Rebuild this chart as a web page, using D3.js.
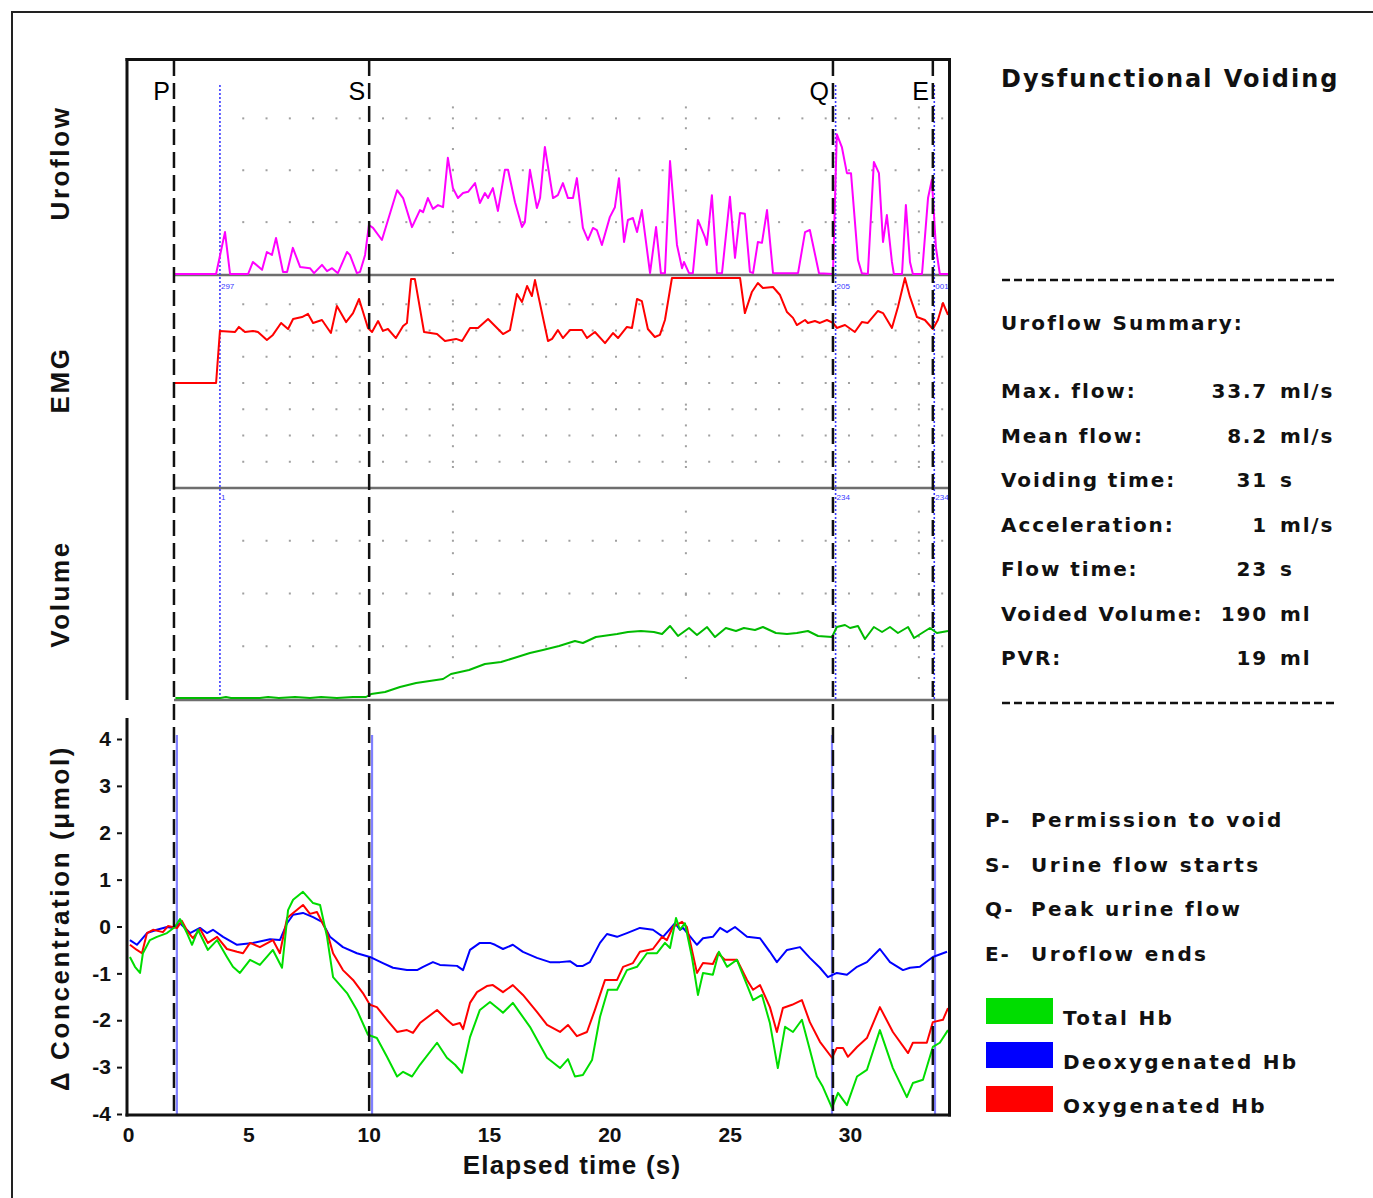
<!DOCTYPE html>
<html>
<head>
<meta charset="utf-8">
<script src="https://cdn.jsdelivr.net/npm/d3@7"></script>
<style>
  body { margin: 0; background: #fff; }
  svg { display: block; }
</style>
</head>
<body>
<div id="chart"></div>
<script>
// uroflow [time s, flow ml/s]
var uroflow = [[1.95,0],[3.66,0],[4.03,10.1],[4.24,0],[4.99,0],[5.19,2.9],[5.57,1.0],[5.77,5.3],[5.98,4.6],[6.15,8.7],[6.44,0.5],[6.61,0.5],[6.85,6.3],[7.15,1.7],[7.56,1.4],[7.73,0.2],[8.06,2.2],[8.27,0.7],[8.48,1.4],[8.72,0.2],[9.10,5.3],[9.22,4.6],[9.51,0.2],[9.64,0.5],[9.85,4.6],[10.01,11.8],[10.18,11.1],[10.55,8.2],[11.18,20.2],[11.43,18.3],[11.80,11.3],[12.13,15.4],[12.26,14.9],[12.46,18.3],[12.67,15.7],[12.88,16.6],[13.09,16.1],[13.29,28.0],[13.50,20.7],[13.71,18.3],[13.92,19.5],[14.13,19.8],[14.42,21.9],[14.62,17.1],[14.83,19.5],[14.96,18.3],[15.16,20.7],[15.37,15.2],[15.66,25.1],[15.79,25.1],[16.08,17.3],[16.37,11.3],[16.49,12.5],[16.70,25.1],[16.99,15.9],[17.12,18.3],[17.32,30.6],[17.66,18.3],[17.86,19.0],[18.07,21.9],[18.28,18.3],[18.49,18.3],[18.65,23.1],[18.90,11.1],[19.11,8.2],[19.32,11.1],[19.48,10.6],[19.69,7.0],[20.02,13.7],[20.23,16.1],[20.40,23.1],[20.61,7.7],[20.77,13.0],[20.98,13.5],[21.15,10.1],[21.35,15.4],[21.69,0.2],[21.94,11.3],[22.14,0.2],[22.31,0.2],[22.52,27.2],[22.81,7.0],[23.02,1.4],[23.10,2.9],[23.31,0.2],[23.47,0.2],[23.68,13.0],[23.97,8.9],[24.05,7.0],[24.26,19.0],[24.47,0.2],[24.68,0.2],[25.01,18.6],[25.22,3.9],[25.43,14.7],[25.63,14.5],[25.84,0.5],[25.97,0.2],[26.17,7.7],[26.34,7.5],[26.55,15.4],[26.80,0.2],[27.84,0.2],[28.13,10.1],[28.33,10.6],[28.71,0.2],[29.29,0],[29.45,33.7],[29.66,30.6],[29.87,24.3],[30.04,24.3],[30.33,3.4],[30.49,0.2],[30.74,0],[30.99,27.0],[31.20,24.3],[31.37,7.7],[31.53,14.2],[31.74,2.9],[31.82,0],[32.16,0],[32.32,16.6],[32.49,2.9],[32.61,0],[32.99,0],[33.24,18.3],[33.40,22.7],[33.57,6.3],[33.73,0],[34.07,0]];

// EMG [time s, activity %]
var emg = [[1.95,50],[3.66,50],[3.82,74.8],[4.45,74.3],[4.61,76.7],[4.86,74.3],[5.19,74.8],[5.40,74.3],[5.77,70.5],[6.02,72.9],[6.36,78.6],[6.65,75.7],[6.86,80.5],[7.23,81.4],[7.48,82.9],[7.69,78.6],[8.06,80.0],[8.43,73.8],[8.68,86.7],[9.06,79.0],[9.35,83.3],[9.60,90.0],[9.97,76.2],[10.14,74.3],[10.39,79.5],[10.59,74.8],[10.80,75.7],[11.13,71.4],[11.43,77.1],[11.59,78.6],[11.76,99.5],[11.92,99.5],[12.30,74.3],[12.84,73.3],[13.17,70.0],[13.63,71.0],[13.88,70.0],[14.21,76.2],[14.54,76.2],[14.96,80.5],[15.58,73.3],[15.87,75.2],[16.16,92.4],[16.37,88.6],[16.58,96.2],[16.78,91.4],[16.91,99.0],[17.45,70.0],[17.62,71.0],[17.86,75.2],[18.07,71.4],[18.36,75.2],[18.86,75.2],[19.07,71.4],[19.40,74.3],[19.82,69.0],[20.15,73.8],[20.36,71.4],[20.73,76.7],[20.94,76.2],[21.15,90.0],[21.35,89.0],[21.60,75.7],[21.89,71.9],[22.10,72.9],[22.31,80.0],[22.60,100],[25.43,100],[25.63,83.3],[25.92,93.3],[26.17,97.6],[26.38,95.2],[26.80,95.7],[27.09,91.9],[27.38,83.8],[27.63,81.0],[27.79,77.6],[28.13,80.0],[28.25,78.6],[28.54,79.5],[28.75,78.6],[29.04,80.0],[29.29,78.6],[29.45,76.2],[29.79,77.6],[30.20,74.3],[30.49,79.0],[30.74,78.6],[31.16,84.3],[31.37,83.3],[31.74,76.2],[31.99,86.2],[32.28,100],[32.49,91.0],[32.78,81.4],[33.11,80.0],[33.44,75.7],[33.65,80.0],[33.86,88.1],[34.07,82.4]];

// voided volume [time s, ml]
var volume = [[1.97,2.7],[3.84,2.7],[4.07,5.5],[4.28,2.7],[5.48,2.7],[5.82,5.5],[6.27,2.7],[6.94,5.5],[7.56,2.7],[8.02,5.5],[8.68,2.7],[9.35,5.5],[9.89,5.5],[10.10,13.7],[10.68,19.2],[11.30,33.0],[11.97,44.0],[13.09,55.0],[13.42,68.7],[14.17,79.7],[14.83,96.2],[15.50,101.7],[16.04,112.7],[16.70,126.5],[17.24,134.7],[17.91,145.7],[18.57,159.4],[18.90,153.9],[19.44,170.4],[20.32,178.7],[20.77,184.2],[21.31,186.9],[21.85,184.2],[22.19,178.7],[22.52,200.7],[22.85,173.2],[23.31,195.2],[23.64,175.9],[24.06,197.9],[24.39,170.4],[24.84,195.2],[25.26,186.9],[25.59,195.2],[26.05,189.7],[26.38,197.9],[26.92,181.4],[27.38,178.7],[27.79,181.4],[28.25,186.9],[28.67,173.2],[29.25,170.4],[29.45,197.9],[29.79,203.4],[30.00,195.2],[30.33,200.7],[30.62,164.9],[30.99,197.9],[31.33,184.2],[31.66,197.9],[31.99,181.4],[32.41,197.9],[32.66,167.7],[32.99,181.4],[33.32,195.2],[33.61,181.4],[34.07,186.9]];

// NIRS, change in concentration [time s, umol]
var deoxyHb = [[0.08,-0.29],[0.37,-0.39],[0.79,-0.14],[1.20,-0.07],[1.62,-0.01],[1.87,-0.03],[2.16,0.07],[2.58,-0.14],[2.99,-0.03],[3.28,-0.14],[3.53,-0.07],[3.95,-0.22],[4.53,-0.39],[5.19,-0.35],[5.90,-0.27],[6.31,-0.29],[6.61,0.07],[6.86,0.25],[7.27,0.29],[7.69,0.20],[8.06,0.10],[8.39,-0.22],[8.93,-0.44],[9.51,-0.57],[10.05,-0.65],[10.59,-0.78],[11.01,-0.88],[11.59,-0.93],[12.01,-0.93],[12.26,-0.86],[12.67,-0.76],[12.96,-0.82],[13.67,-0.84],[13.92,-0.93],[14.21,-0.50],[14.62,-0.35],[15.04,-0.35],[15.25,-0.39],[15.58,-0.48],[15.99,-0.39],[16.41,-0.54],[16.99,-0.67],[17.53,-0.76],[17.95,-0.76],[18.36,-0.74],[18.65,-0.84],[18.90,-0.84],[19.19,-0.76],[19.61,-0.35],[19.90,-0.16],[20.32,-0.22],[20.73,-0.14],[21.27,-0.03],[21.81,-0.07],[22.23,-0.22],[22.73,0.07],[22.93,-0.07],[23.06,-0.03],[23.64,-0.39],[23.89,-0.25],[24.30,-0.22],[24.60,-0.03],[24.89,-0.12],[25.22,-0.01],[25.72,-0.22],[26.26,-0.25],[26.67,-0.54],[26.96,-0.76],[27.38,-0.50],[27.92,-0.44],[28.33,-0.67],[28.75,-0.88],[29.08,-1.08],[29.45,-0.99],[29.87,-1.03],[30.29,-0.86],[30.70,-0.76],[31.24,-0.48],[31.66,-0.76],[32.20,-0.93],[32.49,-0.88],[32.90,-0.86],[33.44,-0.65],[34.03,-0.54]];

var oxyHb = [[0.08,-0.39],[0.37,-0.50],[0.58,-0.57],[0.79,-0.14],[1.04,-0.07],[1.45,-0.12],[1.66,0.01],[2.04,-0.03],[2.24,0.12],[2.49,-0.12],[2.70,-0.25],[2.99,-0.05],[3.32,-0.35],[3.70,-0.22],[4.11,-0.48],[4.53,-0.54],[4.78,-0.57],[5.07,-0.35],[5.48,-0.44],[6.02,-0.29],[6.31,-0.57],[6.61,0.18],[6.86,0.29],[7.27,0.46],[7.56,0.27],[7.85,0.31],[8.27,-0.12],[8.52,-0.57],[8.93,-0.93],[9.35,-1.14],[9.76,-1.42],[10.05,-1.67],[10.34,-1.72],[10.76,-1.99],[11.18,-2.25],[11.59,-2.21],[11.84,-2.27],[12.13,-2.06],[12.84,-1.78],[13.25,-1.99],[13.50,-2.10],[13.79,-2.06],[13.92,-2.19],[14.21,-1.63],[14.50,-1.40],[14.91,-1.27],[15.16,-1.25],[15.58,-1.40],[15.99,-1.25],[16.41,-1.46],[16.99,-1.82],[17.41,-2.10],[17.95,-2.25],[18.28,-2.10],[18.65,-2.34],[19.07,-2.25],[19.40,-1.78],[19.82,-1.14],[20.32,-1.14],[20.57,-0.86],[20.98,-0.78],[21.27,-0.54],[21.81,-0.48],[22.19,-0.22],[22.39,-0.29],[22.64,-0.01],[23.02,0.10],[23.22,-0.01],[23.64,-0.99],[23.89,-0.78],[24.30,-0.80],[24.51,-0.57],[24.80,-0.71],[25.30,-0.71],[25.72,-1.14],[25.97,-1.35],[26.26,-1.25],[26.67,-1.72],[26.96,-2.25],[27.21,-1.74],[27.59,-1.67],[28.00,-1.57],[28.33,-2.04],[28.75,-2.46],[29.25,-2.80],[29.45,-2.59],[29.71,-2.59],[29.91,-2.78],[30.29,-2.57],[30.70,-2.38],[31.24,-1.72],[31.78,-2.25],[32.41,-2.70],[32.61,-2.48],[33.19,-2.48],[33.44,-2.04],[33.86,-1.99],[34.07,-1.74]];

var totalHb = [[0.08,-0.65],[0.29,-0.86],[0.50,-0.99],[0.62,-0.57],[0.91,-0.29],[1.20,-0.22],[1.62,-0.14],[1.95,-0.01],[2.16,0.16],[2.45,-0.14],[2.66,-0.39],[2.91,-0.07],[3.32,-0.50],[3.70,-0.29],[4.11,-0.65],[4.36,-0.86],[4.65,-0.99],[5.07,-0.71],[5.48,-0.82],[6.02,-0.50],[6.40,-0.88],[6.65,0.35],[6.86,0.57],[7.27,0.74],[7.69,0.50],[7.98,0.46],[8.27,-0.22],[8.52,-1.08],[9.10,-1.42],[9.51,-1.78],[9.97,-2.31],[10.34,-2.38],[10.76,-2.78],[11.18,-3.20],[11.43,-3.10],[11.80,-3.20],[12.13,-2.95],[12.84,-2.48],[13.25,-2.80],[13.59,-2.95],[13.88,-3.12],[14.21,-2.36],[14.62,-1.78],[15.04,-1.61],[15.45,-1.78],[15.58,-1.84],[15.99,-1.63],[16.70,-2.14],[17.41,-2.80],[17.95,-3.02],[18.28,-2.83],[18.57,-3.20],[18.90,-3.17],[19.28,-2.85],[19.61,-1.93],[19.94,-1.35],[20.32,-1.35],[20.73,-0.93],[21.15,-0.86],[21.56,-0.57],[21.98,-0.57],[22.31,-0.35],[22.52,-0.46],[22.77,0.18],[22.93,-0.07],[23.14,0.07],[23.43,-0.65],[23.68,-1.46],[23.89,-0.99],[24.30,-1.03],[24.55,-0.54],[24.89,-0.86],[25.30,-0.71],[25.72,-1.25],[25.97,-1.57],[26.34,-1.46],[26.67,-2.06],[27.00,-3.02],[27.30,-2.14],[27.63,-2.25],[28.00,-1.99],[28.33,-2.63],[28.62,-3.20],[28.87,-3.42],[29.25,-3.87],[29.50,-3.55],[29.87,-3.81],[30.29,-3.20],[30.70,-3.06],[31.24,-2.21],[31.78,-3.02],[32.36,-3.64],[32.61,-3.34],[33.03,-3.27],[33.44,-2.57],[33.73,-2.48],[34.07,-2.21]];

var events = [{ name: "P", t: 1.91 }, { name: "S", t: 10.02 }, { name: "Q", t: 29.29 }, { name: "E", t: 33.44 }];
var nirsMarks = [2.03, 10.14, 29.25, 33.53];
var cursors = [{ t: 3.82, emg: "297", vol: "1" }, { t: 29.4, emg: "205", vol: "234" }, { t: 33.5, emg: "001", vol: "234" }];

var timeTicks = [0, 5, 10, 15, 20, 25, 30];
var concTicks = [-4, -3, -2, -1, 0, 1, 2, 3, 4];
var flowRows = [12.5, 25, 37.5];
var emgRows = [12.5, 25, 37.5, 50, 62.5, 75, 87.5];
var volRows = [145, 290, 435];
var gridStart = 3.82, gridStep = 0.968;

var summary = [
  { label: "Max. flow:", num: "33.7", unit: "ml/s" },
  { label: "Mean flow:", num: "8.2", unit: "ml/s" },
  { label: "Voiding time:", num: "31", unit: "s" },
  { label: "Acceleration:", num: "1", unit: "ml/s" },
  { label: "Flow time:", num: "23", unit: "s" },
  { label: "Voided Volume:", num: "190", unit: "ml" },
  { label: "PVR:", num: "19", unit: "ml" }
];
var eventNotes = [["P-", "Permission to void"], ["S-", "Urine flow starts"], ["Q-", "Peak urine flow"], ["E-", "Uroflow ends"]];
var legendItems = [{ name: "Total Hb", color: "#00dd00" }, { name: "Deoxygenated Hb", color: "#0000ff" }, { name: "Oxygenated Hb", color: "#ff0000" }];

var W = 1373, H = 1198;
var svg = d3.select("#chart").append("svg")
    .attr("width", W).attr("height", H)
    .style("background", "#fff");

var sans = "'Liberation Sans', Arial, sans-serif";
var verd = "'DejaVu Sans', Verdana, sans-serif";

var x = d3.scaleLinear().domain([0, 34.07]).range([128, 948]);
var yFlow = d3.scaleLinear().domain([0, 50]).range([274, 66.5]);
var yEmg = d3.scaleLinear().domain([0, 100]).range([488, 278]);
var yVol = d3.scaleLinear().domain([0, 580]).range([699, 488]);
var yConc = d3.scaleLinear().domain([-4, 4]).range([1114, 739]);

var lanes = [
  { y: yFlow, rows: flowRows, top: 85, bottom: 274 },
  { y: yEmg, rows: emgRows, top: 278, bottom: 488 },
  { y: yVol, rows: volRows, top: 490, bottom: 699 }
];

// outer frame
svg.append("path")
    .attr("d", "M12," + H + "V12H" + W)
    .attr("fill", "none").attr("stroke", "#222").attr("stroke-width", 2);

// dotted grid of the uroflow recorder
var grid = svg.append("g").attr("fill", "#a0a0a0");
var cols = d3.range(gridStart + gridStep, 34.07, gridStep);
lanes.forEach(function(l) {
  l.rows.forEach(function(r) {
    grid.selectAll(null).data(cols).enter().append("rect")
        .attr("x", function(d) { return x(d) - 1; })
        .attr("y", l.y(r) - 1)
        .attr("width", 2).attr("height", 2);
  });
  d3.range(1, 4).forEach(function(k) {
    var t = gridStart + k * 10 * gridStep;
    grid.selectAll(null).data(d3.range(l.bottom - 21, l.top + 4, -20.8)).enter().append("rect")
        .attr("x", x(t) - 1).attr("y", function(d) { return d - 1; })
        .attr("width", 2).attr("height", 2);
  });
});

// lane separators
[yFlow(0) + 1, yEmg(0), yVol(0) + 1].forEach(function(yy) {
  svg.append("line")
      .attr("x1", x(events[0].t)).attr("x2", 949)
      .attr("y1", yy).attr("y2", yy)
      .attr("stroke", "#6e6e6e").attr("stroke-width", 2.5);
});

// cursor lines (blue dotted) with tiny readouts
cursors.forEach(function(c) {
  svg.append("line")
      .attr("x1", x(c.t)).attr("x2", x(c.t))
      .attr("y1", 85).attr("y2", 700)
      .attr("stroke", "#3a3aff").attr("stroke-width", 1.6)
      .attr("stroke-dasharray", "2,2");
  svg.append("text").attr("x", x(c.t) + 1).attr("y", 289)
      .attr("font-family", sans).attr("font-size", 8).attr("fill", "#3a3aff").text(c.emg);
  svg.append("text").attr("x", x(c.t) + 1).attr("y", 500)
      .attr("font-family", sans).attr("font-size", 8).attr("fill", "#3a3aff").text(c.vol);
});

// NIRS event lines (blue)
nirsMarks.forEach(function(t) {
  svg.append("line")
      .attr("x1", x(t)).attr("x2", x(t))
      .attr("y1", 735).attr("y2", 1114)
      .attr("stroke", "#8080ff").attr("stroke-width", 2.2);
});

function path(data, y, color, w) {
  svg.append("path")
      .datum(data)
      .attr("fill", "none")
      .attr("stroke", color)
      .attr("stroke-width", w)
      .attr("stroke-linejoin", "round")
      .attr("d", d3.line().x(function(d) { return x(d[0]); }).y(function(d) { return y(d[1]); }));
}

path(uroflow, yFlow, "#ff00ff", 2);
path(emg, yEmg, "#ff0000", 2);
path(volume, yVol, "#00bb00", 2);

path(deoxyHb, yConc, "#0000ff", 2);
path(oxyHb, yConc, "#ff0000", 2);
path(totalHb, yConc, "#00dd00", 2);

// event dashed lines with letters
events.forEach(function(e) {
  svg.append("line")
      .attr("x1", x(e.t)).attr("x2", x(e.t))
      .attr("y1", 60).attr("y2", 1114)
      .attr("stroke", "#111").attr("stroke-width", 2.5)
      .attr("stroke-dasharray", "16,7");
  svg.append("text")
      .attr("x", x(e.t) - 4).attr("y", 100)
      .attr("text-anchor", "end")
      .attr("font-family", sans).attr("font-size", 25)
      .attr("fill", "#000").text(e.name);
});

// frame of the chart
svg.append("line").attr("x1", 125.5).attr("x2", 951).attr("y1", 59.5).attr("y2", 59.5)
    .attr("stroke", "#111").attr("stroke-width", 3);
svg.append("line").attr("x1", 127).attr("x2", 127).attr("y1", 58).attr("y2", 700)
    .attr("stroke", "#111").attr("stroke-width", 3);
svg.append("line").attr("x1", 949.5).attr("x2", 949.5).attr("y1", 58).attr("y2", 1116.5)
    .attr("stroke", "#111").attr("stroke-width", 3);
svg.append("line").attr("x1", 127).attr("x2", 127).attr("y1", 718).attr("y2", 1116.5)
    .attr("stroke", "#111").attr("stroke-width", 3);
svg.append("line").attr("x1", 125.5).attr("x2", 951).attr("y1", 1115).attr("y2", 1115)
    .attr("stroke", "#111").attr("stroke-width", 3);

// axes of the NIRS panel
var yAxis = svg.append("g")
    .attr("transform", "translate(127,0)")
    .call(d3.axisLeft(yConc).tickValues(concTicks).tickSize(0).tickPadding(16)
      .tickFormat(function(d) { return String(d); }));
yAxis.select(".domain").remove();
yAxis.selectAll(".tick line").attr("x1", -10).attr("x2", -5)
    .attr("stroke", "#111").attr("stroke-width", 2);
yAxis.selectAll(".tick text")
    .attr("font-family", sans).attr("font-size", 21).attr("font-weight", "bold").attr("fill", "#111");

var xAxis = svg.append("g")
    .attr("transform", "translate(0,1115)")
    .call(d3.axisBottom(x).tickValues(timeTicks).tickSize(0).tickPadding(12)
      .tickFormat(function(d) { return String(d); }));
xAxis.select(".domain").remove();
xAxis.selectAll(".tick text")
    .attr("font-family", sans).attr("font-size", 21).attr("font-weight", "bold").attr("fill", "#111");

svg.append("text")
    .attr("x", 572).attr("y", 1174)
    .attr("text-anchor", "middle")
    .attr("font-family", sans).attr("font-size", 26).attr("font-weight", "bold")
    .attr("letter-spacing", 1.2).attr("fill", "#111")
    .text("Elapsed time (s)");

// rotated lane titles
[["Uroflow", 163], ["EMG", 380], ["Volume", 594], ["\u0394  Concentration  (\u03bcmol)", 918]].forEach(function(t) {
  svg.append("text")
      .attr("transform", "translate(69," + t[1] + ") rotate(-90)")
      .attr("text-anchor", "middle")
      .attr("font-family", sans).attr("font-size", 26).attr("font-weight", "bold")
      .attr("letter-spacing", 2.6).attr("fill", "#111")
      .text(t[0]);
});

// right panel: summary
var panel = svg.append("g")
    .attr("font-family", verd).attr("font-weight", "bold").attr("fill", "#111");

panel.append("text").attr("x", 1001).attr("y", 87)
    .attr("font-size", 24).attr("letter-spacing", 2).text("Dysfunctional  Voiding");

[280, 703].forEach(function(yy) {
  panel.append("line").attr("x1", 1002).attr("x2", 1337).attr("y1", yy).attr("y2", yy)
      .attr("stroke", "#111").attr("stroke-width", 2.5).attr("stroke-dasharray", "8,4");
});

panel.append("text").attr("x", 1001).attr("y", 330)
    .attr("font-size", 20).attr("letter-spacing", 2.1).text("Uroflow  Summary:");

summary.forEach(function(s, i) {
  var yy = 398 + i * 44.5;
  panel.append("text").attr("x", 1001).attr("y", yy)
      .attr("font-size", 20).attr("letter-spacing", 1.9).text(s.label);
  panel.append("text").attr("x", 1268).attr("y", yy).attr("text-anchor", "end")
      .attr("font-size", 20).attr("letter-spacing", 1.8).text(s.num);
  panel.append("text").attr("x", 1280).attr("y", yy)
      .attr("font-size", 20).attr("letter-spacing", 1.8).text(s.unit);
});

// event notes
eventNotes.forEach(function(n, i) {
  var yy = 827 + i * 44.5;
  panel.append("text").attr("x", 985).attr("y", yy)
      .attr("font-size", 20).attr("letter-spacing", 1.8).text(n[0]);
  panel.append("text").attr("x", 1031).attr("y", yy)
      .attr("font-size", 20).attr("letter-spacing", 2.4).text(n[1]);
});

// colour legend
legendItems.forEach(function(l, i) {
  var yy = 998 + i * 44;
  panel.append("rect").attr("x", 986).attr("y", yy)
      .attr("width", 67).attr("height", 26).attr("fill", l.color);
  panel.append("text").attr("x", 1063).attr("y", yy + 27)
      .attr("font-size", 20).attr("letter-spacing", 2.3).text(l.name);
});
</script>
</body>
</html>
